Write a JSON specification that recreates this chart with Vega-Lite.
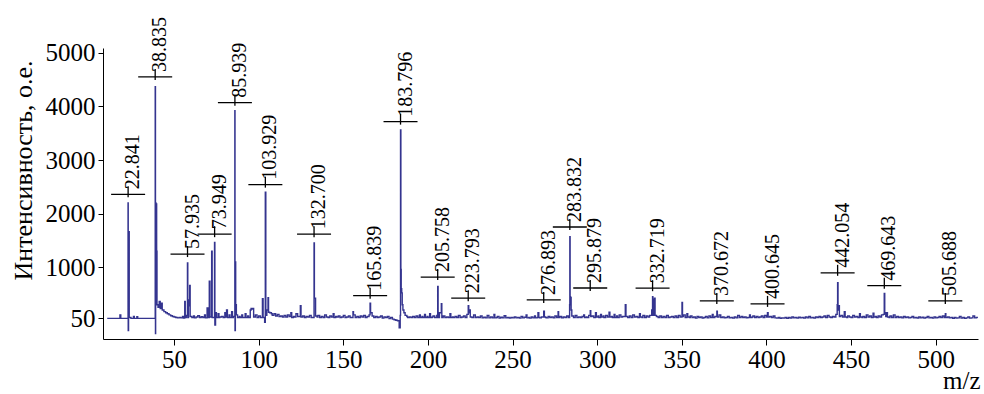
{
  "$schema": "https://vega.github.io/schema/vega-lite/v6.json",
  "width": 875,
  "height": 291,
  "autosize": "none",
  "padding": {"left": 103, "top": 48, "right": 6, "bottom": 55},
  "background": "white",
  "config": {"view": {"stroke": null}},
  "datasets": {
    "spec": [
      {"m":10.5,"i":45},{"m":14,"i":45},{"m":17.5,"i":45},{"m":18,"i":110},{"m":18.5,"i":45},{"m":22.5,"i":45},{"m":22.8,"i":2200},{"m":22.9,"i":-180},{"m":23.1,"i":1660},{"m":23.3,"i":1660},{"m":23.5,"i":60},{"m":24.5,"i":45},{"m":26,"i":80},{"m":26.5,"i":45},{"m":28,"i":75},{"m":28.5,"i":45},{"m":30,"i":45},{"m":33,"i":45},{"m":36,"i":45},{"m":38.7,"i":45},
      {"m":38.85,"i":4370},{"m":39.0,"i":-240},{"m":39.1,"i":2200},{"m":39.3,"i":1300},{"m":39.5,"i":2180},{"m":39.7,"i":1300},{"m":39.9,"i":300},{"m":40.5,"i":250},{"m":41.2,"i":360},{"m":41.8,"i":230},{"m":42.5,"i":330},{"m":43,"i":200},{"m":44,"i":170},{"m":45,"i":150},{"m":46,"i":130},{"m":47,"i":110},{"m":48,"i":95},{"m":49,"i":80},{"m":50,"i":70},{"m":51,"i":60},{"m":52,"i":55},{"m":53,"i":60},{"m":54,"i":55},{"m":55,"i":80},{"m":55.5,"i":50},{"m":56.3,"i":360},{"m":56.6,"i":60},{"m":57.2,"i":100},{"m":57.9,"i":1080},{"m":58.1,"i":60},{"m":58.5,"i":390},{"m":58.8,"i":280},{"m":59.2,"i":660},{"m":59.5,"i":80},{"m":60.5,"i":60},{"m":61.5,"i":90},{"m":62,"i":55},{"m":63,"i":70},{"m":64,"i":95},{"m":65,"i":60},{"m":66,"i":75},{"m":67,"i":60},{"m":68,"i":110},{"m":68.5,"i":55},{"m":69.5,"i":240},{"m":70,"i":60},{"m":70.8,"i":740},{"m":71.2,"i":70},{"m":72.2,"i":1300},{"m":72.5,"i":60},{"m":73.9,"i":1460},{"m":74.1,"i":-80},{"m":74.5,"i":150},{"m":75,"i":60},{"m":76,"i":130},{"m":76.5,"i":60},{"m":77,"i":70},{"m":78,"i":80},{"m":79,"i":60},{"m":80,"i":150},{"m":80.5,"i":70},{"m":81,"i":200},{"m":81.5,"i":60},{"m":82.5,"i":110},{"m":83,"i":60},{"m":84,"i":170},{"m":84.5,"i":60},{"m":85,"i":80},
      {"m":85.9,"i":3920},{"m":86.0,"i":-180},{"m":86.2,"i":1100},{"m":86.4,"i":300},{"m":86.8,"i":110},{"m":87.5,"i":60},{"m":88.5,"i":80},{"m":89,"i":60},{"m":90,"i":110},{"m":90.5,"i":60},{"m":91.5,"i":60},{"m":92,"i":130},{"m":92.5,"i":60},{"m":93.5,"i":90},{"m":94,"i":60},{"m":95,"i":200},{"m":95.5,"i":230},{"m":96,"i":220},{"m":96.7,"i":230},{"m":97,"i":70},{"m":98,"i":110},{"m":99,"i":60},{"m":100,"i":90},{"m":101,"i":60},{"m":102.2,"i":410},{"m":102.6,"i":60},{"m":103.5,"i":-30},{"m":103.9,"i":2400},{"m":104.2,"i":100},{"m":104.8,"i":200},{"m":105.5,"i":430},{"m":105.8,"i":160},{"m":106.5,"i":150},{"m":107.5,"i":130},{"m":108,"i":100},{"m":109,"i":130},{"m":110,"i":90},{"m":111,"i":120},{"m":112,"i":80},{"m":113,"i":90},{"m":114,"i":70},{"m":115,"i":100},{"m":116,"i":70},{"m":117,"i":110},{"m":118,"i":80},{"m":119,"i":150},{"m":119.5,"i":60},{"m":120.5,"i":80},{"m":121,"i":70},{"m":122,"i":130},{"m":123,"i":80},{"m":124.6,"i":280},{"m":125,"i":70},{"m":126,"i":90},{"m":127,"i":60},{"m":128,"i":80},{"m":129,"i":70},{"m":130,"i":100},{"m":131,"i":60},
      {"m":132.7,"i":1450},{"m":132.9,"i":420},{"m":133.3,"i":420},{"m":133.6,"i":90},{"m":134.5,"i":70},{"m":135,"i":100},{"m":136,"i":60},{"m":137,"i":80},{"m":138,"i":60},{"m":139,"i":110},{"m":140,"i":70},{"m":141,"i":60},{"m":142,"i":90},{"m":143,"i":70},{"m":144,"i":130},{"m":144.5,"i":60},{"m":145.5,"i":80},{"m":146,"i":70},{"m":147,"i":90},{"m":148,"i":60},{"m":149,"i":70},{"m":150,"i":100},{"m":151,"i":60},{"m":152,"i":70},{"m":153,"i":90},{"m":154,"i":60},{"m":155.7,"i":170},{"m":156,"i":110},{"m":157,"i":60},{"m":158,"i":80},{"m":159,"i":60},{"m":160,"i":90},{"m":161,"i":70},{"m":162,"i":100},{"m":163,"i":60},{"m":164,"i":80},{"m":165.2,"i":110},{"m":165.8,"i":330},{"m":166.1,"i":150},{"m":167,"i":90},{"m":168,"i":60},{"m":169,"i":80},{"m":170,"i":60},{"m":171,"i":70},{"m":172,"i":90},{"m":173,"i":50},{"m":174,"i":70},{"m":175,"i":60},{"m":176,"i":80},{"m":177,"i":40},{"m":178,"i":60},{"m":179,"i":30},{"m":180,"i":20},{"m":181,"i":10},{"m":182,"i":0},{"m":183,"i":-130},{"m":183.6,"i":100},
      {"m":183.8,"i":3560},{"m":184.0,"i":960},{"m":184.2,"i":600},{"m":184.5,"i":520},{"m":184.8,"i":300},{"m":185.2,"i":200},{"m":185.8,"i":150},{"m":186.5,"i":100},{"m":187.5,"i":80},{"m":188,"i":60},{"m":189,"i":70},{"m":190,"i":60},{"m":191,"i":80},{"m":192,"i":60},{"m":193,"i":90},{"m":194,"i":60},{"m":195,"i":110},{"m":195.5,"i":60},{"m":196.5,"i":80},{"m":197,"i":60},{"m":198,"i":120},{"m":198.5,"i":60},{"m":199.5,"i":80},{"m":200,"i":60},{"m":201,"i":130},{"m":201.5,"i":60},{"m":202.5,"i":70},{"m":203,"i":90},{"m":204,"i":60},{"m":205.2,"i":100},{"m":205.75,"i":640},{"m":206,"i":60},{"m":206.8,"i":150},{"m":207.9,"i":320},{"m":208.2,"i":60},{"m":209,"i":90},{"m":210,"i":60},{"m":211,"i":70},{"m":212,"i":60},{"m":213,"i":130},{"m":213.5,"i":60},{"m":214.5,"i":70},{"m":215,"i":60},{"m":216,"i":80},{"m":217,"i":60},{"m":218,"i":100},{"m":219,"i":60},{"m":220,"i":70},{"m":221,"i":90},{"m":222,"i":60},{"m":223,"i":120},{"m":223.8,"i":280},{"m":224.1,"i":150},{"m":224.6,"i":200},{"m":225,"i":70},{"m":226,"i":60},{"m":227,"i":110},{"m":228,"i":60},{"m":229,"i":70},{"m":230,"i":60},{"m":231,"i":90},{"m":232,"i":55},{"m":233,"i":65},{"m":234,"i":55},{"m":235,"i":100},{"m":236,"i":55},{"m":237,"i":70},{"m":238,"i":55},{"m":239,"i":120},{"m":239.5,"i":55},{"m":240.5,"i":60},{"m":241,"i":80},{"m":242,"i":50},{"m":243,"i":65},{"m":244,"i":55},{"m":245,"i":95},{"m":246,"i":55},{"m":247,"i":60},{"m":248,"i":50},{"m":249,"i":60},{"m":250,"i":55},{"m":251,"i":70},{"m":252,"i":55},{"m":253,"i":60},{"m":254,"i":50},{"m":255,"i":80},{"m":256,"i":55},{"m":257,"i":65},{"m":258,"i":110},{"m":258.5,"i":55},{"m":259.5,"i":60},{"m":260,"i":50},{"m":261,"i":70},{"m":262,"i":55},{"m":263,"i":90},{"m":263.5,"i":55},{"m":264.5,"i":60},{"m":265,"i":150},{"m":265.5,"i":60},{"m":266,"i":55},{"m":267,"i":70},{"m":268.4,"i":180},{"m":268.8,"i":70},{"m":269.5,"i":60},{"m":270,"i":55},{"m":271,"i":80},{"m":272,"i":60},{"m":273,"i":70},{"m":274,"i":55},{"m":275,"i":90},{"m":276,"i":60},{"m":276.9,"i":170},{"m":277.2,"i":60},{"m":278,"i":80},{"m":279,"i":55},{"m":280,"i":70},{"m":281,"i":60},{"m":282,"i":90},{"m":283,"i":60},{"m":283.7,"i":300},
      {"m":283.83,"i":1570},{"m":284.0,"i":450},{"m":284.3,"i":430},{"m":284.6,"i":200},{"m":285,"i":90},{"m":286,"i":60},{"m":287,"i":100},{"m":288,"i":60},{"m":289,"i":70},{"m":290,"i":60},{"m":291,"i":80},{"m":292,"i":110},{"m":292.5,"i":60},{"m":293.5,"i":70},{"m":294,"i":60},{"m":295,"i":100},{"m":295.9,"i":190},{"m":296.2,"i":80},{"m":297,"i":90},{"m":298,"i":60},{"m":299,"i":150},{"m":299.5,"i":70},{"m":300.5,"i":90},{"m":301,"i":60},{"m":302,"i":120},{"m":302.5,"i":70},{"m":303.5,"i":90},{"m":304,"i":60},{"m":305,"i":100},{"m":306,"i":70},{"m":307,"i":160},{"m":307.5,"i":70},{"m":308.5,"i":80},{"m":309,"i":60},{"m":310,"i":120},{"m":310.5,"i":60},{"m":311.5,"i":90},{"m":312,"i":60},{"m":313,"i":110},{"m":314,"i":70},{"m":315,"i":80},{"m":316.6,"i":300},{"m":317,"i":80},{"m":318,"i":60},{"m":319,"i":90},{"m":320,"i":60},{"m":321,"i":110},{"m":322,"i":70},{"m":323,"i":80},{"m":324,"i":60},{"m":325,"i":130},{"m":325.5,"i":70},{"m":326.5,"i":60},{"m":327,"i":100},{"m":328,"i":60},{"m":329,"i":90},{"m":330,"i":70},{"m":331,"i":100},{"m":332.2,"i":200},{"m":332.7,"i":450},{"m":332.9,"i":100},{"m":333.5,"i":390},{"m":333.8,"i":420},{"m":334.2,"i":100},{"m":335,"i":80},{"m":336,"i":60},{"m":337,"i":90},{"m":338,"i":60},{"m":339,"i":80},{"m":340,"i":60},{"m":341,"i":100},{"m":342,"i":60},{"m":343,"i":70},{"m":344,"i":80},{"m":345,"i":60},{"m":346,"i":90},{"m":347,"i":60},{"m":348,"i":100},{"m":349,"i":70},{"m":350.1,"i":340},{"m":350.4,"i":80},{"m":351,"i":110},{"m":352,"i":60},{"m":353,"i":130},{"m":353.5,"i":70},{"m":354.5,"i":60},{"m":355,"i":90},{"m":356,"i":60},{"m":357,"i":70},{"m":358,"i":50},{"m":359,"i":80},{"m":360,"i":60},{"m":361,"i":70},{"m":362,"i":50},{"m":363,"i":60},{"m":364,"i":80},{"m":365,"i":55},{"m":366,"i":90},{"m":367,"i":60},{"m":368,"i":120},{"m":368.5,"i":60},{"m":369.5,"i":80},{"m":370.7,"i":180},{"m":371,"i":70},{"m":372,"i":110},{"m":373,"i":60},{"m":374,"i":70},{"m":375,"i":55},{"m":376,"i":60},{"m":377,"i":80},{"m":378,"i":55},{"m":379,"i":60},{"m":380,"i":50},{"m":381,"i":70},{"m":382,"i":55},{"m":383,"i":100},{"m":384,"i":60},{"m":385,"i":80},{"m":386,"i":60},{"m":387,"i":70},{"m":388,"i":55},{"m":389,"i":60},{"m":390,"i":110},{"m":390.5,"i":60},{"m":391.5,"i":70},{"m":392,"i":90},{"m":393,"i":60},{"m":394,"i":80},{"m":395,"i":60},{"m":396,"i":70},{"m":397,"i":90},{"m":398,"i":60},{"m":399,"i":100},{"m":400,"i":70},{"m":400.6,"i":150},{"m":401,"i":70},{"m":402,"i":80},{"m":403,"i":60},{"m":404,"i":90},{"m":405,"i":55},{"m":406,"i":50},{"m":407,"i":60},{"m":408,"i":45},{"m":409,"i":55},{"m":410,"i":50},{"m":411,"i":60},{"m":412,"i":45},{"m":413,"i":60},{"m":414,"i":50},{"m":415,"i":70},{"m":416,"i":55},{"m":417,"i":60},{"m":418,"i":50},{"m":419,"i":65},{"m":420,"i":55},{"m":421,"i":60},{"m":422,"i":50},{"m":423,"i":70},{"m":424,"i":55},{"m":425,"i":80},{"m":426,"i":55},{"m":427,"i":60},{"m":428,"i":50},{"m":429,"i":70},{"m":430,"i":60},{"m":431,"i":80},{"m":432,"i":60},{"m":433,"i":70},{"m":434,"i":90},{"m":435,"i":60},{"m":436,"i":100},{"m":437,"i":70},{"m":438,"i":60},{"m":439,"i":80},{"m":440,"i":70},{"m":441,"i":120},{"m":441.8,"i":300},
      {"m":442.05,"i":710},{"m":442.3,"i":200},{"m":442.7,"i":280},{"m":443.1,"i":80},{"m":444,"i":100},{"m":445,"i":70},{"m":446,"i":170},{"m":446.5,"i":70},{"m":447.5,"i":60},{"m":448,"i":90},{"m":449,"i":70},{"m":450,"i":60},{"m":451,"i":100},{"m":452,"i":70},{"m":453,"i":80},{"m":454,"i":60},{"m":455,"i":130},{"m":455.5,"i":70},{"m":456.5,"i":60},{"m":457,"i":80},{"m":458,"i":60},{"m":459,"i":110},{"m":460,"i":70},{"m":461,"i":90},{"m":462,"i":60},{"m":463,"i":140},{"m":463.5,"i":70},{"m":464.5,"i":80},{"m":465,"i":60},{"m":466,"i":90},{"m":467,"i":70},{"m":468,"i":110},{"m":469,"i":120},{"m":469.6,"i":510},{"m":469.9,"i":150},{"m":470.5,"i":80},{"m":471,"i":150},{"m":471.5,"i":70},{"m":472.5,"i":60},{"m":473,"i":90},{"m":474,"i":60},{"m":475,"i":110},{"m":476,"i":60},{"m":477,"i":80},{"m":478,"i":60},{"m":479,"i":70},{"m":480,"i":55},{"m":481,"i":80},{"m":482,"i":60},{"m":483,"i":70},{"m":484,"i":55},{"m":485,"i":60},{"m":486,"i":80},{"m":487,"i":55},{"m":488,"i":60},{"m":489,"i":50},{"m":490,"i":70},{"m":491,"i":55},{"m":492,"i":65},{"m":493,"i":50},{"m":494,"i":60},{"m":495,"i":80},{"m":496,"i":55},{"m":497,"i":60},{"m":498,"i":50},{"m":499,"i":70},{"m":500,"i":55},{"m":501,"i":60},{"m":502,"i":80},{"m":503,"i":60},{"m":504,"i":90},{"m":505,"i":60},{"m":505.7,"i":130},{"m":506,"i":60},{"m":507,"i":70},{"m":508,"i":55},{"m":509,"i":60},{"m":510,"i":45},{"m":511,"i":60},{"m":512,"i":50},{"m":513,"i":55},{"m":514,"i":80},{"m":515,"i":50},{"m":516,"i":60},{"m":517,"i":45},{"m":518,"i":55},{"m":519,"i":70},{"m":520,"i":50},{"m":521,"i":55},{"m":522,"i":90},{"m":523,"i":55},{"m":524,"i":60},{"m":524.8,"i":55}
    ],
    "labels": [
      {"at":22.841,"t":"22.841","b":2360},
      {"at":38.835,"t":"38.835","b":4550},
      {"at":57.935,"t":"57.935","b":1245},
      {"at":73.949,"t":"73.949","b":1616},
      {"at":85.939,"t":"85.939","b":4070},
      {"at":103.929,"t":"103.929","b":2540},
      {"at":132.7,"t":"132.700","b":1616},
      {"at":165.839,"t":"165.839","b":468},
      {"at":183.796,"t":"183.796","b":3716},
      {"at":205.758,"t":"205.758","b":815},
      {"at":223.793,"t":"223.793","b":422},
      {"at":268.4,"t":"276.893","b":390},
      {"at":283.832,"t":"283.832","b":1750},
      {"at":295.879,"t":"295.879","b":612},
      {"at":332.719,"t":"332.719","b":608},
      {"at":370.672,"t":"370.672","b":371},
      {"at":400.645,"t":"400.645","b":315},
      {"at":442.054,"t":"442.054","b":895},
      {"at":469.643,"t":"469.643","b":655},
      {"at":505.688,"t":"505.688","b":371}
    ]
  },
  "layer": [
    {
      "data": {"name": "spec"},
      "mark": {"type": "line", "color": "#34348f", "strokeWidth": 1.4, "clip": true, "interpolate": "step-after"},
      "encoding": {
        "x": {"field": "m", "type": "quantitative", "scale": {"domain": [8, 525], "nice": false, "zero": false},
          "axis": {"values": [50,100,150,200,250,300,350,400,450,500], "title": "m/z", "grid": false,
            "domainColor": "black", "tickColor": "black", "tickSize": 6, "labelColor": "black",
            "labelFont": "Liberation Serif", "labelFontSize": 25, "labelPadding": 2,
            "titleFont": "Liberation Serif", "titleFontSize": 25, "titleFontWeight": "normal", "titleColor": "black",
            "titleX": 877, "titleY": 49, "titleAlign": "right", "titleBaseline": "alphabetic"}},
        "y": {"field": "i", "type": "quantitative", "scale": {"domain": [-340, 5090], "nice": false, "zero": false},
          "axis": {"values": [50,1000,2000,3000,4000,5000], "format": "d", "title": "Интенсивность, о.е.", "grid": false,
            "domainColor": "black", "tickColor": "black", "tickSize": 5, "labelColor": "black",
            "labelFont": "Liberation Serif", "labelFontSize": 25, "labelPadding": 3,
            "titleFont": "Liberation Serif", "titleFontSize": 26, "titleFontWeight": "normal", "titleColor": "black",
            "titleAngle": 270, "titleX": -72, "titleY": 122, "titleAlign": "center", "titleBaseline": "alphabetic"}},
        "order": {"field": "m", "type": "quantitative"}
      }
    },
    {
      "data": {"name": "labels"},
      "mark": {"type": "rule", "color": "black", "strokeWidth": 1.3, "xOffset": -17, "x2Offset": 17},
      "encoding": {
        "x": {"field": "at", "type": "quantitative"},
        "x2": {"field": "at"},
        "y": {"field": "b", "type": "quantitative"}
      }
    },
    {
      "data": {"name": "labels"},
      "mark": {"type": "rule", "color": "black", "strokeWidth": 1.3, "yOffset": -8, "y2Offset": 3},
      "encoding": {
        "x": {"field": "at", "type": "quantitative"},
        "y": {"field": "b", "type": "quantitative"},
        "y2": {"field": "b"}
      }
    },
    {
      "data": {"name": "labels"},
      "mark": {"type": "text", "angle": 270, "align": "left", "baseline": "middle", "dx": 5, "dy": 5,
        "font": "Liberation Serif", "fontSize": 20, "color": "black"},
      "encoding": {
        "x": {"field": "at", "type": "quantitative"},
        "y": {"field": "b", "type": "quantitative"},
        "text": {"field": "t"}
      }
    }
  ]
}
